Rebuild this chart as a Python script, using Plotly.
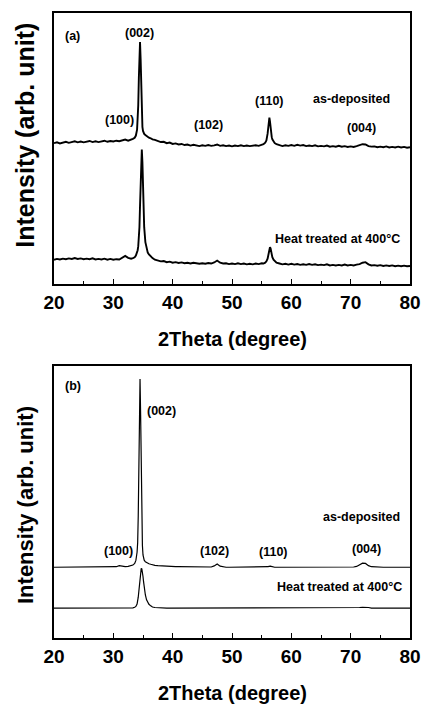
import plotly.graph_objects as go

# 2-theta grid (degrees), shared by all four patterns
two_theta = [
    20.0, 20.5, 21.0, 21.5, 22.0, 22.5, 23.0, 23.5, 24.0, 24.5, 25.0, 25.5, 26.0, 26.5,
    27.0, 27.5, 28.0, 28.5, 29.0, 29.5, 30.0, 30.5, 31.0, 31.5, 32.0, 32.5, 33.0,
    33.3, 33.6, 33.8, 34.0, 34.1, 34.2, 34.3, 34.4, 34.5, 34.6, 34.7, 34.8, 34.9, 35.0,
    35.1, 35.2, 35.4, 35.6, 35.8, 36.0, 36.3, 36.6, 37.0,
    37.5, 38.0, 38.5, 39.0, 39.5, 40.0, 40.5, 41.0, 41.5, 42.0, 42.5, 43.0, 43.5, 44.0,
    44.5, 45.0, 45.5, 46.0, 46.5, 47.0, 47.5, 48.0, 48.5, 49.0, 49.5, 50.0, 50.5, 51.0,
    51.5, 52.0, 52.5, 53.0, 53.5, 54.0, 54.5, 55.0,
    55.3, 55.6, 55.8, 56.0, 56.1, 56.2, 56.3, 56.4, 56.5, 56.6, 56.7, 56.8, 57.0, 57.2, 57.5,
    58.0, 58.5, 59.0, 59.5, 60.0, 60.5, 61.0, 61.5, 62.0, 62.5, 63.0, 63.5, 64.0, 64.5,
    65.0, 65.5, 66.0, 66.5, 67.0, 67.5, 68.0, 68.5, 69.0, 69.5, 70.0, 70.5, 71.0, 71.5,
    72.0, 72.5, 73.0, 73.5, 74.0, 74.5, 75.0, 75.5, 76.0, 76.5, 77.0, 77.5, 78.0, 78.5,
    79.0, 79.5, 80.0,
]

# panel (a): as-deposited (offset upward) and heat treated
a_as_deposited = [
    52.0, 52.3, 51.9, 52.2, 52.5, 52.1, 52.4, 52.7, 52.3, 52.6, 52.3, 52.5, 52.8, 52.4,
    52.7, 52.4, 52.6, 52.9, 52.5, 52.8, 52.6, 52.9, 52.7, 53.0, 53.3, 52.9, 53.2,
    53.6, 54.0, 54.8, 57.0, 60.0, 66.0, 76.0, 86.0, 89.3, 83.0, 70.0, 62.0, 58.0, 56.5,
    55.8, 55.4, 55.0, 54.6, 54.4, 54.0, 53.8, 53.4, 53.2,
    52.8, 52.4, 52.5, 52.0, 52.2, 51.7, 51.9, 51.5, 51.7, 51.3, 51.5, 51.1, 51.4, 51.2,
    50.9, 51.2, 51.0, 51.3, 51.0, 51.2, 51.5, 51.0, 51.2, 50.9, 51.1, 50.8, 51.1, 50.9,
    51.2, 50.9, 51.1, 50.9, 51.1, 51.2, 51.0, 51.3,
    51.6, 52.2, 53.0, 55.5, 58.0, 60.5, 61.4, 60.0, 57.5, 55.5, 54.2, 53.4, 52.6, 52.0, 51.6,
    51.2, 50.9, 51.2, 51.0, 51.3, 51.0, 51.4, 51.1, 51.3, 50.9, 51.1, 50.9, 51.2, 50.8,
    51.0, 50.8, 51.1, 50.7, 50.9, 50.7, 51.0, 50.7, 50.9, 50.6, 50.8, 50.6, 50.9, 51.2,
    51.6, 51.5, 50.9, 50.7, 50.8, 50.5, 50.7, 50.5, 50.8, 50.4, 50.6, 50.4, 50.7, 50.4,
    50.6, 50.3, 50.5,
]
a_heat_treated = [
    9.0, 9.3, 9.1, 9.4, 9.2, 9.5, 9.3, 9.6, 9.3, 9.5, 9.2, 9.4, 9.2, 9.5,
    9.1, 9.3, 9.1, 9.4, 9.0, 9.3, 9.0, 9.2, 9.1, 9.8, 10.4, 9.7, 9.4,
    9.6, 9.9, 10.5, 11.5, 12.5, 14.0, 16.5, 21.0, 29.0, 40.0, 47.5, 49.6, 45.0, 36.0,
    27.0, 21.0, 15.5, 12.8, 11.6, 11.0, 10.2, 9.6, 9.0,
    8.8, 8.4, 8.5, 8.1, 8.3, 7.9, 8.1, 7.8, 8.0, 7.7, 7.9, 7.6, 7.9, 7.7,
    7.5, 7.7, 7.5, 7.8, 7.6, 8.0, 8.7, 7.9, 7.6, 7.7, 7.4, 7.6, 7.4, 7.7,
    7.4, 7.6, 7.3, 7.5, 7.3, 7.6, 7.4, 7.7,
    7.6, 7.9, 8.4, 9.4, 10.5, 11.8, 12.9, 13.6, 13.2, 12.0, 10.8, 9.9, 9.0, 8.4, 7.9,
    7.6, 7.3, 7.5, 7.2, 7.5, 7.2, 7.4, 7.1, 7.3, 7.1, 7.4, 7.1, 7.3, 7.0,
    7.2, 7.0, 7.3, 6.9, 7.1, 6.9, 7.1, 6.9, 7.2, 6.9, 7.1, 6.9, 7.2, 7.4,
    7.9, 8.1, 7.3, 6.9, 7.0, 6.8, 7.0, 6.7, 6.9, 6.7, 6.9, 6.6, 6.8, 6.6,
    6.8, 6.6, 6.7,
]

# panel (b): as-deposited and heat treated
b_as_deposited = [
    26.0, 26.0, 26.0, 26.0, 26.0, 26.0, 26.0, 26.0, 26.0, 26.0, 26.0, 26.0, 26.0, 26.0,
    26.0, 26.0, 26.0, 26.0, 26.0, 26.0, 26.1, 26.2, 26.6, 26.3, 26.2, 26.3, 26.5,
    26.8, 27.4, 28.5, 31.5, 35.0, 45.0, 65.0, 88.0, 95.2, 82.0, 58.0, 42.0, 34.0, 30.5,
    29.2, 28.6, 28.0, 27.7, 27.5, 27.3, 27.1, 26.9, 26.7,
    26.6, 26.5, 26.4, 26.4, 26.3, 26.3, 26.2, 26.2, 26.2, 26.1, 26.1, 26.2, 26.1, 26.1,
    26.0, 26.0, 26.1, 26.0, 26.1, 26.5, 27.2, 26.4, 26.1, 26.0, 26.0, 26.0, 26.1, 26.0,
    26.0, 26.0, 26.0, 26.0, 26.0, 26.0, 26.0, 26.0,
    26.0, 26.0, 26.1, 26.1, 26.2, 26.3, 26.4, 26.5, 26.4, 26.3, 26.2, 26.1, 26.0, 26.0, 26.0,
    26.0, 26.0, 26.0, 26.0, 26.0, 26.0, 26.0, 26.0, 26.0, 26.0, 26.0, 26.0, 26.0, 26.0,
    26.0, 26.0, 26.0, 26.0, 26.0, 26.0, 26.0, 26.0, 26.0, 26.0, 26.0, 26.1, 26.3, 26.8,
    27.5, 27.4, 26.6, 26.2, 26.1, 26.0, 26.0, 26.0, 26.0, 26.0, 26.0, 26.0, 26.0, 26.0,
    26.0, 26.0, 26.0,
]
b_heat_treated = [
    11.0, 11.0, 11.0, 11.0, 11.0, 11.0, 11.0, 11.0, 11.0, 11.0, 11.0, 11.0, 11.0, 11.0,
    11.0, 11.0, 11.0, 11.0, 11.0, 11.0, 11.0, 11.0, 11.0, 11.0, 11.0, 11.0, 11.0,
    11.1, 11.3, 11.6, 12.5, 13.5, 15.0, 17.2, 20.0, 22.8, 24.8, 25.6, 25.4, 24.3, 22.6,
    20.6, 18.7, 15.8, 14.0, 13.0, 12.4, 11.8, 11.4, 11.2,
    11.1, 11.0, 11.0, 11.0, 11.0, 11.0, 11.0, 11.0, 11.0, 11.0, 11.0, 11.0, 11.0, 11.0,
    11.0, 11.0, 11.0, 11.0, 11.0, 11.0, 11.1, 11.0, 11.0, 11.0, 11.0, 11.0, 11.0, 11.0,
    11.0, 11.0, 11.0, 11.0, 11.0, 11.0, 11.0, 11.0,
    11.0, 11.0, 11.0, 11.0, 11.0, 11.0, 11.0, 11.0, 11.0, 11.0, 11.0, 11.0, 11.0, 11.0, 11.0,
    11.0, 11.0, 11.0, 11.0, 11.0, 11.0, 11.0, 11.0, 11.0, 11.0, 11.0, 11.0, 11.0, 11.0,
    11.0, 11.0, 11.0, 11.0, 11.0, 11.0, 11.0, 11.0, 11.0, 11.0, 11.0, 11.0, 11.0, 11.2,
    11.3, 11.3, 11.2, 11.0, 11.0, 11.0, 11.0, 11.0, 11.0, 11.0, 11.0, 11.0, 11.0, 11.0,
    11.0, 11.0, 11.0,
]

x_ticks = [20, 30, 40, 50, 60, 70, 80]

# annotation labels: (text, 2theta, intensity)
labels_a = [
    ("(a)", 23.15, 91.5), ("(002)", 34.4, 92.6), ("(100)", 31.1, 60.7),
    ("(102)", 46.0, 58.8), ("(110)", 56.3, 67.6), ("as-deposited", 70.1, 68.4),
    ("(004)", 71.9, 57.7), ("Heat treated at 400°C", 67.8, 16.5),
]
labels_b = [
    ("(b)", 23.15, 92.7), ("(002)", 38.2, 83.5), ("as-deposited", 71.9, 44.3),
    ("(100)", 30.8, 31.9), ("(102)", 47.0, 31.9), ("(110)", 57.0, 31.5),
    ("(004)", 72.7, 32.6), ("Heat treated at 400°C", 68.1, 18.7),
]

FONT = "Liberation Sans"

fig = go.Figure()
for y in (a_as_deposited, a_heat_treated):
    fig.add_trace(go.Scatter(x=two_theta, y=y, mode="lines", xaxis="x", yaxis="y",
                             line=dict(color="black", width=1.9), showlegend=False))
for y in (b_as_deposited, b_heat_treated):
    fig.add_trace(go.Scatter(x=two_theta, y=y, mode="lines", xaxis="x2", yaxis="y2",
                             line=dict(color="black", width=1.2), showlegend=False))

xcommon = dict(range=[20, 80], tickvals=x_ticks, ticks="inside", ticklen=5, tickwidth=1.2,
               tickcolor="black", showline=True, linecolor="black", linewidth=1.5,
               mirror=True, showgrid=False, zeroline=False,
               tickfont=dict(family=FONT, size=19, color="black", weight="bold"),
               minor=dict(tickvals=[25, 35, 45, 55, 65, 75], ticks="inside", ticklen=3,
                          tickwidth=1, tickcolor="black"))
ycommon = dict(range=[0, 100], showticklabels=False, ticks="", showline=True,
               linecolor="black", linewidth=1.5, mirror=True, showgrid=False, zeroline=False)

annotations = []
for text, x, y in labels_a:
    annotations.append(dict(text=text, x=x, y=y, xref="x", yref="y", showarrow=False,
                            font=dict(family=FONT, size=12.5, color="black", weight="bold")))
for text, x, y in labels_b:
    annotations.append(dict(text=text, x=x, y=y, xref="x2", yref="y2", showarrow=False,
                            font=dict(family=FONT, size=12.5, color="black", weight="bold")))

# axis titles
annotations += [
    dict(text="2Theta (degree)", x=0.501, y=0.4785, xref="paper", yref="paper",
         showarrow=False, xanchor="center", yanchor="middle",
         font=dict(family=FONT, size=20, color="black", weight="bold")),
    dict(text="2Theta (degree)", x=0.501, y=-0.0877, xref="paper", yref="paper",
         showarrow=False, xanchor="center", yanchor="middle",
         font=dict(family=FONT, size=20, color="black", weight="bold")),
    dict(text="Intensity (arb. unit)", x=-0.0799, y=0.8046, xref="paper", yref="paper",
         showarrow=False, xanchor="center", yanchor="middle", textangle=-90,
         font=dict(family=FONT, size=25, color="black", weight="bold")),
    dict(text="Intensity (arb. unit)", x=-0.0799, y=0.2121, xref="paper", yref="paper",
         showarrow=False, xanchor="center", yanchor="middle", textangle=-90,
         font=dict(family=FONT, size=22, color="black", weight="bold")),
]

fig.update_layout(
    width=432, height=704,
    margin=dict(l=54, r=15, t=11, b=66),
    paper_bgcolor="white", plot_bgcolor="white",
    xaxis=dict(domain=[0, 1], anchor="y", **xcommon),
    yaxis=dict(domain=[0.5662, 1.0], anchor="x", **ycommon),
    xaxis2=dict(domain=[0, 1], anchor="y2", **xcommon),
    yaxis2=dict(domain=[0.0, 0.4354], anchor="x2", **ycommon),
    annotations=annotations,
)

fig.write_html("out.html", config={"displayModeBar": False},
               post_script="document.body.style.margin='0';document.body.style.padding='0';")
